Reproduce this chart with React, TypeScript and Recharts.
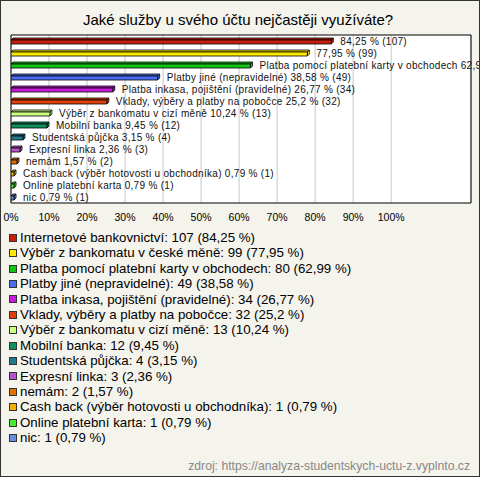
import React from 'react';
import { BarChart, Bar, XAxis, YAxis, CartesianGrid, ReferenceArea, LabelList } from 'recharts';

const categories = [
  'Internetové bankovnictví',
  'Výběr z bankomatu v české měně',
  'Platba pomocí platební karty v obchodech',
  'Platby jiné (nepravidelné)',
  'Platba inkasa, pojištění (pravidelné)',
  'Vklady, výběry a platby na pobočce',
  'Výběr z bankomatu v cizí měně',
  'Mobilní banka',
  'Studentská půjčka',
  'Expresní linka',
  'nemám',
  'Cash back (výběr hotovosti u obchodníka)',
  'Online platební karta',
  'nic',
];
const counts = [107, 99, 80, 49, 34, 32, 13, 12, 4, 3, 2, 1, 1, 1];
const percents = [84.25, 77.95, 62.99, 38.58, 26.77, 25.2, 10.24, 9.45, 3.15, 2.36, 1.57, 0.79, 0.79, 0.79];
const colors = [
  '#c8200e', '#ffe800', '#14c414', '#4a6ef0', '#c61ed8', '#e0400a', '#ccff80',
  '#10905a', '#1f7a8c', '#b855c8', '#e07000', '#f0b000', '#44ee33', '#6a8ee0',
];
const xTicks = [0, 10, 20, 30, 40, 50, 60, 70, 80, 90, 100];

const FONT = '"Liberation Sans", Arial, sans-serif';

const data = categories.map((name, i) => ({
  name,
  pct: percents[i],
  count: counts[i],
  color: colors[i],
}));

const fmt = (v: number) => String(v).replace('.', ',');

const Bar3D = (props: any) => {
  const { x, y, width, height, payload } = props;
  const d = 2;
  const w = Math.max(width, 1);
  const c = payload.color;
  return (
    <g stroke="#000" strokeWidth={0.8} strokeLinejoin="round">
      <polygon points={`${x},${y + d} ${x + d},${y} ${x + w + d},${y} ${x + w},${y + d}`} fill={c} />
      <polygon points={`${x + w},${y + d} ${x + w + d},${y} ${x + w + d},${y + height - d} ${x + w},${y + height}`} fill={c} />
      <rect x={x} y={y + d} width={w} height={height - d} fill={c} />
    </g>
  );
};

const renderLabel = (props: any) => {
  const { x, y, width, height, index } = props;
  const row = data[index];
  if (!row) return null;
  // the two longest bars only carry the value
  const txt = index < 2
    ? `${fmt(row.pct)} % (${row.count})`
    : `${row.name} ${fmt(row.pct)} % (${row.count})`;
  return (
    <text x={x + width + 9} y={y + height / 2 + 1} dominantBaseline="middle" fontSize={10} letterSpacing={0.3} fontFamily={FONT} fill="#111">
      {txt}
    </text>
  );
};

export default function App() {
  return (
    <div style={{ position: 'absolute', left: 0, top: 0, width: 478, height: 475, border: '1px solid #333', background: '#f4f3ec', fontFamily: FONT, overflow: 'hidden' }}>
      <div style={{ position: 'absolute', left: 0, top: 10, width: 474, textAlign: 'center', fontSize: 15, lineHeight: '18px', color: '#000' }}>
        Jaké služby u svého účtu nejčastěji využíváte?
      </div>
      <div style={{ position: 'absolute', left: 0, top: 0 }}>
        <BarChart layout="vertical" width={478} height={232} data={data} margin={{ top: 34, right: 8, left: 10, bottom: 0 }} style={{ overflow: 'visible' }}>
          <CartesianGrid horizontal={false} stroke="#c8c8c8" fill="#fff" fillOpacity={1} />
          <XAxis
            type="number"
            domain={[0, 121]}
            ticks={xTicks}
            interval={0}
            allowDataOverflow
            tickFormatter={(v: number) => `${v}%`}
            axisLine={false}
            tickLine={false}
            tickMargin={5}
            height={30}
            tick={{ fontSize: 10.5, fill: '#000', fontFamily: FONT }}
          />
          <YAxis type="category" dataKey="name" hide width={0} />
          <ReferenceArea x1={0} x2={121} fill="none" stroke="#000" strokeWidth={1} ifOverflow="visible" />
          <Bar dataKey="pct" barSize={6} shape={Bar3D} isAnimationActive={false}>
            <LabelList dataKey="pct" content={renderLabel} />
          </Bar>
        </BarChart>
      </div>
      <div style={{ position: 'absolute', left: 8, top: 229, fontSize: 13.3, lineHeight: '15.4px', color: '#000' }}>
        {data.map((d) => (
          <div key={d.name} style={{ display: 'flex', alignItems: 'center', whiteSpace: 'nowrap' }}>
            <span style={{ display: 'inline-block', width: 6, height: 6, border: '1px solid #333', background: d.color, marginRight: 3 }} />
            <span>{`${d.name}: ${d.count} (${fmt(d.pct)} %)`}</span>
          </div>
        ))}
      </div>
      <div style={{ position: 'absolute', right: 9, top: 458, fontSize: 12.2, lineHeight: '14px', color: '#888' }}>
        zdroj: https://analyza-studentskych-uctu-z.vyplnto.cz
      </div>
    </div>
  );
}
